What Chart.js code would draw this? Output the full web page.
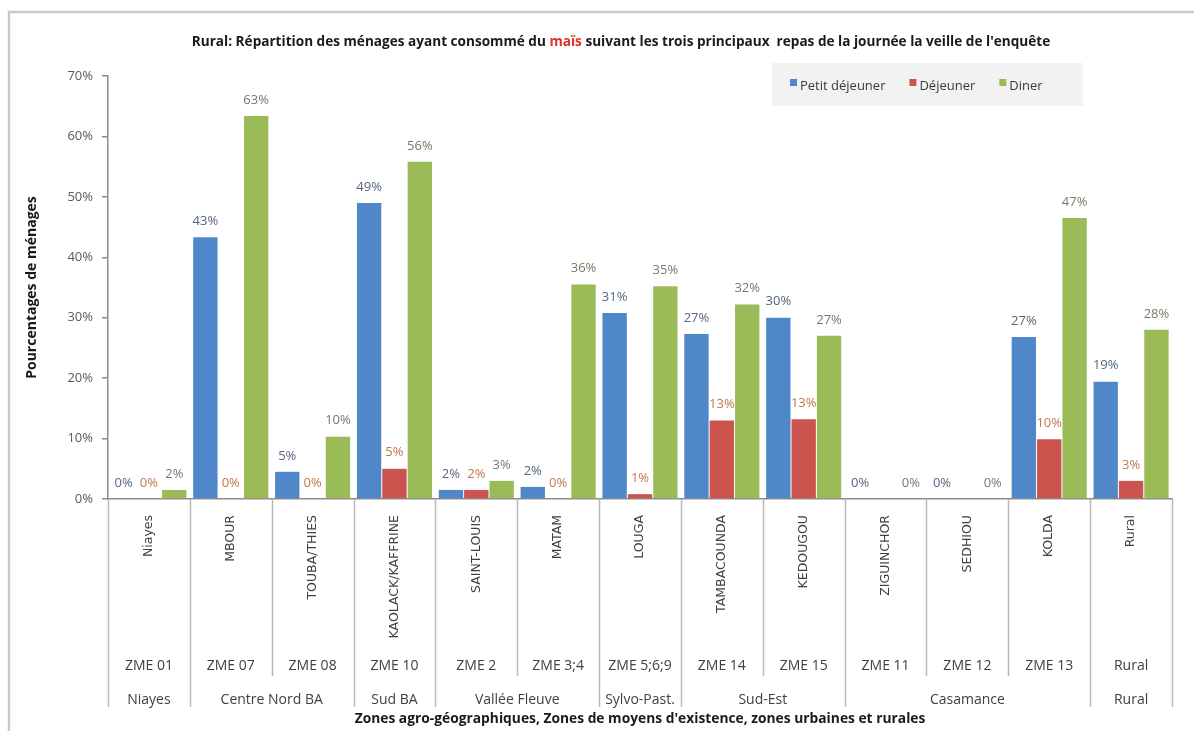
<!DOCTYPE html>
<html lang="fr">
<head>
<meta charset="utf-8">
<title>Rural - consommation du maïs</title>
<script src="https://cdn.jsdelivr.net/npm/chart.js@4.4.1/dist/chart.umd.min.js"></script>
<style>
  html, body { margin: 0; padding: 0; background: #fff; }
  #wrap { width: 1194px; height: 731px; position: relative; }
</style>
</head>
<body>
<div id="wrap"><canvas id="chart"></canvas></div>
<script>
// Zones (one bar group per zone)
const zones = ['Niayes', 'MBOUR', 'TOUBA/THIES', 'KAOLACK/KAFFRINE', 'SAINT-LOUIS', 'MATAM', 'LOUGA',
  'TAMBACOUNDA', 'KEDOUGOU', 'ZIGUINCHOR', 'SEDHIOU', 'KOLDA', 'Rural'];
const zmeCodes = ['ZME 01', 'ZME 07', 'ZME 08', 'ZME 10', 'ZME 2', 'ZME 3;4', 'ZME 5;6;9',
  'ZME 14', 'ZME 15', 'ZME 11', 'ZME 12', 'ZME 13', 'Rural'];
const groupNames = ['Niayes', 'Centre Nord BA', 'Sud BA', 'Vallée Fleuve', 'Sylvo-Past.', 'Sud-Est', 'Casamance', 'Rural'];
const groupSpans = [1, 2, 1, 2, 1, 2, 3, 1];

// Share of households (%) per meal
const petitDejeuner = [0, 43.3, 4.5, 49, 1.5, 2, 30.8, 27.3, 30, 0, 0, 26.8, 19.4];
const dejeuner = [0, 0, 0, 5, 1.5, 0, 0.8, 13, 13.2, null, null, 9.9, 3];
const diner = [1.5, 63.4, 10.3, 55.8, 3, 35.5, 35.2, 32.2, 27, 0, 0, 46.5, 28];

const yTicks = [0, 10, 20, 30, 40, 50, 60, 70];

const FONT = "'Open Sans', 'Liberation Sans', sans-serif";
const labelColors = ['#56667f', '#c47650', '#767b68'];

// Frame, title, legend, value labels and the multi-row category axis
const decorPlugin = {
  id: 'decor',
  beforeDraw(chart) {
    const ctx = chart.ctx;
    ctx.save();
    ctx.strokeStyle = '#cacaca';
    ctx.lineWidth = 2.5;
    ctx.beginPath();
    ctx.moveTo(9, 731);
    ctx.lineTo(9, 12);
    ctx.lineTo(1194, 12);
    ctx.stroke();
    ctx.restore();
  },
  afterDraw(chart) {
    const ctx = chart.ctx;
    const area = chart.chartArea;
    ctx.save();

    // title with the word "maïs" in red
    const parts = [
      ['Rural: Répartition des ménages ayant consommé du ', '#1a1a1a'],
      ['maïs', '#e0302a'],
      [' suivant les trois principaux  repas de la journée la veille de l\'enquête', '#1a1a1a']
    ];
    ctx.font = 'bold 13.6px ' + FONT;
    ctx.textBaseline = 'middle';
    ctx.textAlign = 'left';
    let total = 0;
    parts.forEach(p => total += ctx.measureText(p[0]).width);
    let tx = 621 - total / 2;
    parts.forEach(p => {
      ctx.fillStyle = p[1];
      ctx.fillText(p[0], tx, 42);
      tx += ctx.measureText(p[0]).width;
    });

    // legend box
    ctx.fillStyle = '#f2f2f2';
    ctx.fillRect(772, 63, 311, 43);
    ctx.font = '13px ' + FONT;
    let lx = 790;
    chart.data.datasets.forEach(ds => {
      ctx.fillStyle = ds.backgroundColor;
      ctx.fillRect(lx, 79, 7, 7);
      ctx.fillStyle = '#3a3a3a';
      ctx.fillText(ds.label, lx + 10, 86);
      lx += 10 + ctx.measureText(ds.label).width + 24;
    });

    // value labels above each bar
    ctx.font = '13px ' + FONT;
    ctx.textAlign = 'center';
    chart.data.datasets.forEach((ds, di) => {
      const meta = chart.getDatasetMeta(di);
      meta.data.forEach((bar, i) => {
        const v = ds.data[i];
        if (v === null || v === undefined) return;
        ctx.fillStyle = labelColors[di];
        ctx.fillText(Math.round(v) + '%', bar.x, bar.y - 16);
      });
    });

    // category separators below the axis
    const n = zones.length;
    const step = (area.right - area.left) / n;
    const groupEdges = new Set([0]);
    let acc = 0;
    groupSpans.forEach(s => { acc += s; groupEdges.add(acc); });
    ctx.strokeStyle = '#b8b8b8';
    ctx.lineWidth = 1.5;
    for (let i = 0; i <= n; i++) {
      const x = Math.round(area.left + i * step) + 0.5;
      ctx.beginPath();
      ctx.moveTo(x, area.bottom);
      ctx.lineTo(x, groupEdges.has(i) ? 707 : 676);
      ctx.stroke();
    }

    // ZME row
    ctx.fillStyle = '#404040';
    ctx.font = '14px ' + FONT;
    zmeCodes.forEach((code, i) => {
      ctx.fillText(code, area.left + (i + 0.5) * step, 666);
    });

    // zone group row
    let start = 0;
    groupNames.forEach((name, gi) => {
      const cx = area.left + (start + groupSpans[gi] / 2) * step;
      ctx.fillText(name, cx, 700);
      start += groupSpans[gi];
    });

    ctx.restore();
  }
};

const chart = new Chart(document.getElementById('chart'), {
  type: 'bar',
  data: {
    labels: zones,
    datasets: [
      { label: 'Petit déjeuner', data: petitDejeuner, backgroundColor: '#4f87c8' },
      { label: 'Déjeuner', data: dejeuner, backgroundColor: '#cb544f' },
      { label: 'Diner', data: diner, backgroundColor: '#9bbb59' }
    ]
  },
  options: {
    responsive: true,
    maintainAspectRatio: false,
    animation: false,
    events: [],
    layout: { padding: { left: 10, top: 76, right: 22, bottom: 0 } },
    datasets: {
      bar: { categoryPercentage: 0.93, barPercentage: 0.96 }
    },
    plugins: {
      legend: { display: false },
      title: { display: false },
      tooltip: { enabled: false }
    },
    scales: {
      x: {
        grid: { display: false },
        border: { display: true, color: '#8c8c8c', width: 1.5 },
        ticks: {
          autoSkip: false,
          minRotation: 90,
          maxRotation: 90,
          padding: 8,
          color: '#404040',
          font: { family: "'DejaVu Sans', sans-serif", size: 12.5 }
        },
        title: {
          display: true,
          text: 'Zones agro-géographiques, Zones de moyens d\'existence, zones urbaines et rurales',
          color: '#1a1a1a',
          font: { family: FONT, size: 13.8, weight: 'bold' },
          padding: { top: 0, bottom: 4 }
        },
        afterFit(scale) { scale.height = 232; }
      },
      y: {
        min: 0,
        max: 70,
        afterBuildTicks(scale) { scale.ticks = yTicks.map(v => ({ value: v })); },
        grid: { drawOnChartArea: false, drawTicks: true, tickLength: 6, color: '#8c8c8c', lineWidth: 1.5 },
        border: { display: true, color: '#8c8c8c', width: 1.5 },
        ticks: {
          padding: 9,
          color: '#595959',
          font: { family: FONT, size: 13 },
          callback: v => v + '%'
        },
        title: {
          display: true,
          text: 'Pourcentages de ménages',
          color: '#1a1a1a',
          font: { family: FONT, size: 14, weight: 'bold' },
          padding: { top: 14, bottom: 0 }
        },
        afterFit(scale) { scale.width = 98; }
      }
    }
  },
  plugins: [decorPlugin]
});
</script>
</body>
</html>
